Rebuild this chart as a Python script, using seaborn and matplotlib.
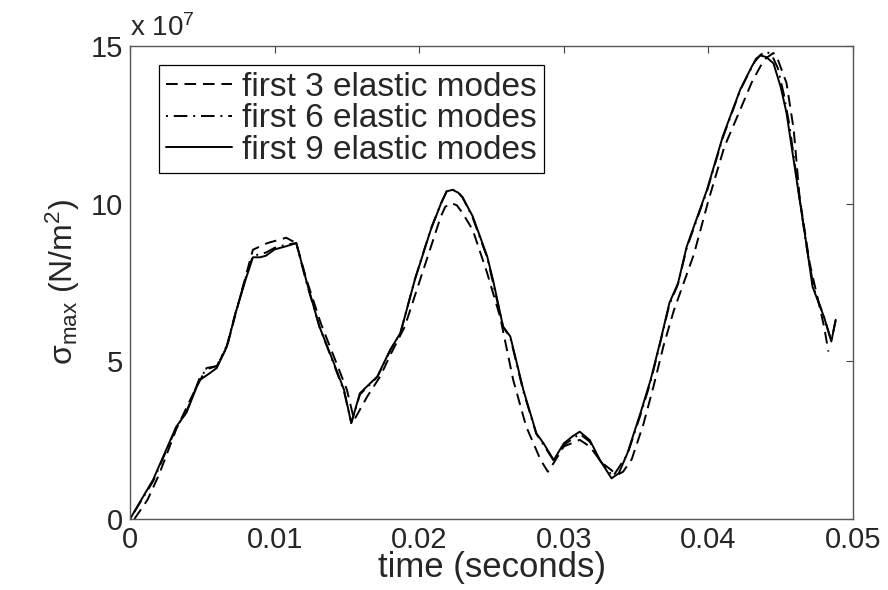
import numpy as np
import pandas as pd
import matplotlib
matplotlib.use('Agg')
import matplotlib.pyplot as plt
import seaborn as sns

# time (s) and sigma_max (x 1e7 N/m^2)
t3 = [0.0003, 0.0012, 0.0020, 0.0032, 0.0045, 0.0053, 0.0060, 0.0067, 0.0073, 0.0080,
      0.0085, 0.0095, 0.0108, 0.0115, 0.0122, 0.0132, 0.0141, 0.0150, 0.0155, 0.0164,
      0.0173, 0.0180, 0.0190, 0.0200, 0.0210, 0.0215, 0.0218, 0.0222, 0.0226, 0.0230,
      0.0237, 0.0247, 0.0256, 0.0265, 0.0274, 0.0284, 0.0289, 0.0294, 0.0300, 0.0311,
      0.0318, 0.0326, 0.0337, 0.0341, 0.0347, 0.0355, 0.0362, 0.0369, 0.0376, 0.0383,
      0.0390, 0.0400, 0.0411, 0.0422, 0.0430, 0.0436, 0.0440, 0.0445, 0.0448, 0.0454,
      0.0459, 0.0463, 0.0470, 0.0480, 0.0483]
s3 = [0, 0.6, 1.4, 2.85, 4.1, 4.79, 4.85, 5.45, 6.5, 7.7,
      8.54, 8.75, 8.92, 8.75, 7.6, 6.2, 5.15, 4.1, 3.14, 3.88,
      4.52, 5.2, 6.1, 7.5, 8.9, 9.6, 9.9, 10.02, 9.95, 9.7,
      9.17, 7.8, 6.4, 4.41, 2.93, 1.87, 1.5, 1.85, 2.3, 2.51,
      2.3, 1.8, 1.4, 1.5, 1.9, 3.0, 4.2, 5.5, 6.6, 7.5,
      8.4, 10.1, 11.8, 12.98, 13.85, 14.36, 14.62, 14.78, 14.57, 13.83,
      12.35, 10.23, 8.12, 6.1, 5.31]

t6 = [0, 0.0016, 0.0032, 0.0039, 0.0048, 0.0053, 0.0060, 0.0067, 0.0073, 0.0080,
      0.0085, 0.0090, 0.0094, 0.0100, 0.0108, 0.0115, 0.0122, 0.0131, 0.0141, 0.0148,
      0.0153, 0.0159, 0.0171, 0.0180, 0.0187, 0.0197, 0.0208, 0.0215, 0.0219, 0.0223,
      0.0227, 0.0230, 0.0237, 0.0247, 0.0258, 0.0263, 0.0272, 0.0281, 0.0286, 0.0293,
      0.0300, 0.0311, 0.0318, 0.0325, 0.0334, 0.0344, 0.0353, 0.0360, 0.0367, 0.0373,
      0.0379, 0.0385, 0.0399, 0.0410, 0.0422, 0.0428, 0.0432, 0.0436, 0.0440, 0.0444,
      0.0448, 0.0452, 0.0456, 0.0462, 0.0468, 0.0473, 0.0480, 0.0485, 0.0488]
s6 = [0, 1.2, 2.9, 3.4, 4.45, 4.75, 4.85, 5.5, 6.55, 7.65,
      8.35, 8.4, 8.45, 8.6, 8.7, 8.75, 7.5, 6.1, 4.9, 4.05,
      3.05, 3.95, 4.5, 5.35, 5.9, 7.6, 9.2, 10.0, 10.4, 10.45,
      10.35, 10.2, 9.55, 8.3, 6.1, 5.75, 4.05, 2.7, 2.35, 1.85,
      2.35, 2.7, 2.45, 1.85, 1.35, 2.05, 3.3, 4.35, 5.65, 6.8,
      7.45, 8.6, 10.4, 12.1, 13.6, 14.15, 14.5, 14.72, 14.83, 14.7,
      14.3, 13.5, 12.5, 10.5, 8.6, 7.3, 6.4, 5.65, 6.3]

t9 = [0, 0.0016, 0.0032, 0.0039, 0.0048, 0.0055, 0.0060, 0.0067, 0.0073, 0.0080,
      0.0085, 0.0090, 0.0094, 0.0100, 0.0108, 0.0115, 0.0122, 0.0131, 0.0141, 0.0148,
      0.0153, 0.0159, 0.0171, 0.0180, 0.0187, 0.0197, 0.0208, 0.0215, 0.0219, 0.0223,
      0.0227, 0.0230, 0.0237, 0.0247, 0.0251, 0.0258, 0.0263, 0.0272, 0.0281, 0.0286,
      0.0293, 0.0300, 0.0306, 0.0311, 0.0318, 0.0325, 0.0333, 0.0338, 0.0344, 0.0353,
      0.0360, 0.0367, 0.0373, 0.0379, 0.0385, 0.0399, 0.0410, 0.0422, 0.0430, 0.0433,
      0.0436, 0.0440, 0.0445, 0.0450, 0.0454, 0.0461, 0.0468, 0.0472, 0.0480, 0.0485,
      0.0488]
s9 = [0, 1.25, 2.93, 3.37, 4.4, 4.62, 4.79, 5.47, 6.53, 7.6,
      8.3, 8.3, 8.35, 8.55, 8.65, 8.75, 7.55, 6.1, 4.94, 4.1,
      3.04, 3.99, 4.52, 5.37, 5.9, 7.59, 9.17, 10.0, 10.39, 10.44,
      10.35, 10.2, 9.6, 8.33, 7.59, 6.1, 5.79, 4.1, 2.72, 2.4,
      1.87, 2.4, 2.62, 2.77, 2.5, 1.87, 1.29, 1.45, 2.09, 3.36,
      4.41, 5.68, 6.85, 7.48, 8.64, 10.44, 12.14, 13.62, 14.35, 14.6,
      14.7, 14.65, 14.45, 13.7, 12.88, 10.76, 8.64, 7.37, 6.4, 5.63,
      6.32]

labels = ['first 3 elastic modes', 'first 6 elastic modes', 'first 9 elastic modes']

sns.set_style('white')
plt.rcParams['font.family'] = ['Liberation Sans', 'DejaVu Sans']
plt.rcParams['mathtext.fontset'] = 'custom'
plt.rcParams['mathtext.rm'] = 'Liberation Sans'
plt.rcParams['mathtext.it'] = 'Liberation Sans:italic'

fig = plt.figure(figsize=(8.88, 5.9), dpi=100)
ax = fig.add_axes([0.1464, 0.1203, 0.8142, 0.8017])

series = [(t3, s3, (6, 3.5)), (t6, s6, (1, 3, 7, 3)), (t9, s9, None)]
for (t, s, dash), lab in zip(series, labels):
    df = pd.DataFrame({'t': t, 's': s})
    sns.lineplot(data=df, x='t', y='s', sort=False, estimator=None, color='black',
                 linewidth=1.4, label=lab, ax=ax)
    if dash is not None:
        ax.lines[-1].set_dashes(dash)

ax.set_xlim(0, 0.05)
ax.set_ylim(0, 15)
ax.set_xticks([0, 0.01, 0.02, 0.03, 0.04, 0.05])
ax.set_xticklabels(['0', '0.01', '0.02', '0.03', '0.04', '0.05'])
ax.set_yticks([0, 5, 10, 15])
ax.set_yticklabels(['0', '5', '10', '15'])
ax.tick_params(direction='in', length=5, width=0.8, top=True, right=True,
               labelsize=21, color='#444444', pad=5)
for sp in ax.spines.values():
    sp.set_color('#555555')
    sp.set_linewidth(1.0)

ax.set_xlabel('time (seconds)', fontsize=25, labelpad=-2)
ax.set_ylabel('σ$_{\\rm max}$ (N/m$^2$)', fontsize=23, labelpad=6)
ax.text(0.0, 1.008, r'x 10$^7$', transform=ax.transAxes, fontsize=20,
        ha='left', va='bottom')

leg = ax.legend(loc='upper left', bbox_to_anchor=(0.04, 0.96), fontsize=24,
                frameon=True, fancybox=False, edgecolor='black', framealpha=1,
                handlelength=2.0, handletextpad=0.3, borderpad=0.2,
                labelspacing=0.02, borderaxespad=0)
leg.get_frame().set_linewidth(0.9)

fig.savefig('out.png', dpi=100)
